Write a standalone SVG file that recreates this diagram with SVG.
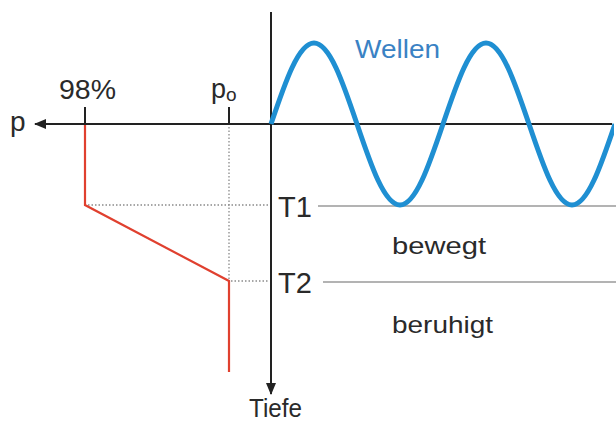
<svg xmlns="http://www.w3.org/2000/svg" width="616" height="424" viewBox="0 0 616 424">
<style>
text{font-family:"Liberation Sans",Arial,sans-serif;fill:#2a2a2a}
.axis{stroke:#222;stroke-width:2;fill:none}
.dot{stroke:#8a8a8a;stroke-width:1.3;stroke-dasharray:1.5 2;fill:none}
.lvl{stroke:#9a9a9a;stroke-width:1.5;fill:none}
.red{stroke:#e0402f;stroke-width:2.2;fill:none}
.wave{stroke:#1f8fd2;stroke-width:5;fill:none}
</style>
<defs>
<marker id="arr" viewBox="0 0 12 10" refX="11" refY="5" markerWidth="12" markerHeight="10" markerUnits="userSpaceOnUse" orient="auto">
<path d="M0,0 L12,5 L0,10 Z" fill="#222"/>
</marker>
<clipPath id="clip"><rect x="0" y="0" width="614" height="424"/></clipPath>
</defs>
<g id="connectors">
<line class="axis" x1="612" y1="124" x2="35" y2="124" marker-end="url(#arr)"/>
<line class="axis" x1="271" y1="12" x2="271" y2="394" marker-end="url(#arr)"/>
<line class="axis" x1="85" y1="107" x2="85" y2="124"/>
<line class="axis" x1="229" y1="107" x2="229" y2="124"/>
<line class="dot" x1="229" y1="127" x2="229" y2="281"/>
<line class="dot" x1="88" y1="205" x2="268" y2="205"/>
<line class="dot" x1="231" y1="281" x2="268" y2="281"/>
<line class="lvl" x1="318" y1="206" x2="616" y2="206"/>
<line class="lvl" x1="323" y1="282" x2="616" y2="282"/>
<polyline class="red" points="85,125 85,205 229,281 229,372"/>
</g>
<g id="wave" clip-path="url(#clip)">
<path class="wave" d="M271,124 C285.02,82.5 298.43,43 314,43 C329.57,43 342.98,82.5 357,124 C371.02,165.5 384.43,205 400,205 C415.57,205 428.98,165.5 443,124 C457.02,82.5 470.43,43 486,43 C501.57,43 514.98,82.5 529,124 C543.02,165.5 556.43,205 572,205 C587.57,205 600.98,165.5 615,124"/>
</g>
<g id="labels">
<text x="10" y="131" font-size="28">p</text>
<text x="59" y="99" font-size="27" textLength="57" lengthAdjust="spacingAndGlyphs">98%</text>
<text x="211" y="98" font-size="27">p<tspan font-size="19" dy="3">o</tspan></text>
<text x="355" y="58" font-size="25" style="fill:#3a82c4" textLength="85" lengthAdjust="spacingAndGlyphs">Wellen</text>
<text x="278" y="217" font-size="29">T1</text>
<text x="278" y="293" font-size="29">T2</text>
<text x="392" y="254" font-size="24" textLength="94" lengthAdjust="spacingAndGlyphs">bewegt</text>
<text x="392" y="333" font-size="24" textLength="101" lengthAdjust="spacingAndGlyphs">beruhigt</text>
<text x="249" y="417" font-size="25" textLength="53" lengthAdjust="spacingAndGlyphs">Tiefe</text>
</g>
</svg>
